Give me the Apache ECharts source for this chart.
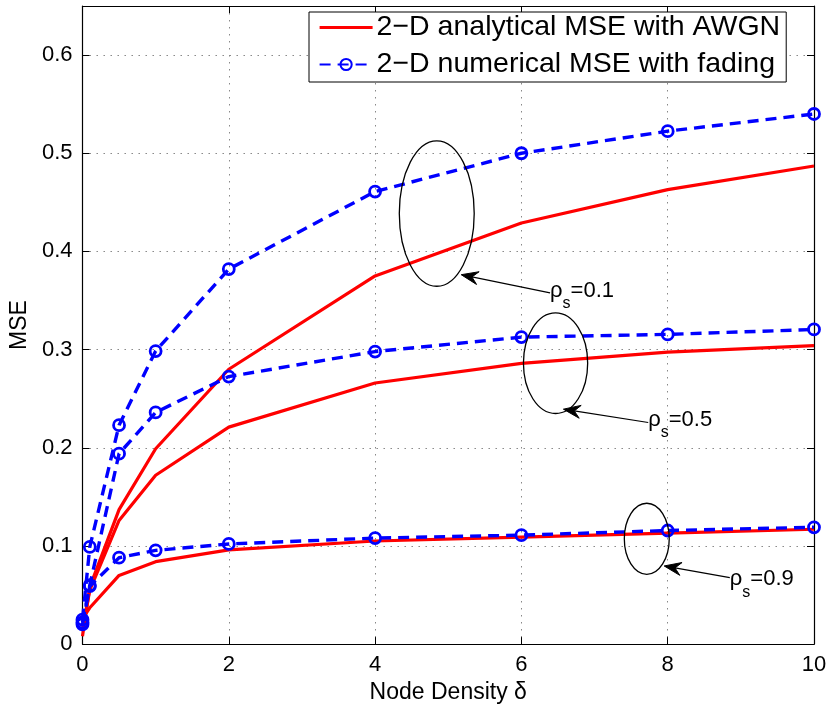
<!DOCTYPE html>
<html>
<head>
<meta charset="utf-8">
<script src="https://cdn.jsdelivr.net/npm/echarts@6/dist/echarts.min.js"></script>
<style>
  html, body { margin: 0; padding: 0; background: #fff; }
  #chart { width: 830px; height: 709px; }
</style>
</head>
<body>
<div id="chart"></div>
<script>
// Node density values (x axis)
const density = [0, 0.1, 0.5, 1, 2, 4, 6, 8, 10];

// 2-D analytical MSE with AWGN, one list per spatial correlation rho_s
const analyticRho01 = [0.008, 0.058, 0.137, 0.199, 0.280, 0.375, 0.429, 0.463, 0.487];
const analyticRho05 = [0.015, 0.055, 0.126, 0.172, 0.221, 0.266, 0.286, 0.2975, 0.304];
const analyticRho09 = [0.026, 0.037, 0.070, 0.084, 0.096, 0.105, 0.109, 0.113, 0.117];

// 2-D numerical MSE with fading
const numericRho01 = [0.025, 0.099, 0.223, 0.2985, 0.382, 0.461, 0.500, 0.5225, 0.540];
const numericRho05 = [0.022, 0.060, 0.194, 0.236, 0.2725, 0.298, 0.3127, 0.3155, 0.3205];
const numericRho09 = [0.020, 0.059, 0.088, 0.0955, 0.102, 0.108, 0.111, 0.1157, 0.119];

// Tick values
const xTicks = [0, 2, 4, 6, 8, 10];
const yTicks = [0, 0.1, 0.2, 0.3, 0.4, 0.5, 0.6];

const nameAnalytic = '2\u2212D analytical MSE with AWGN';
const nameNumeric = '2\u2212D numerical MSE with fading';

// Callouts: label, ellipse (data centre + data radii), arrow tail/tip, label anchor
const callouts = [
  { rho: '0.1', centre: [4.843, 0.4386], radius: [0.512, 0.0741], tail: [6.392, 0.3578], tip: [5.177, 0.3763], anchor: [6.392, 0.3596] },
  { rho: '0.5', centre: [6.467, 0.2862], radius: [0.439, 0.0513], tail: [7.734, 0.2258], tip: [6.574, 0.2393], anchor: [7.734, 0.2286] },
  { rho: '0.9', centre: [7.714, 0.1073], radius: [0.307, 0.0362], tail: [8.849, 0.0677], tip: [7.952, 0.0796], anchor: [8.849, 0.0662] }
];

const FONT = '"Liberation Sans", Arial, Helvetica, sans-serif';
const RED = '#ff0000';
const BLUE = '#0000ff';

const pairs = ys => density.map((x, i) => [x, ys[i]]);

function analyticSeries(ys) {
  return {
    name: nameAnalytic, type: 'line', data: pairs(ys),
    symbol: 'none', showSymbol: false,
    lineStyle: { color: RED, width: 3.2, type: 'solid' },
    itemStyle: { color: 'rgba(255,0,0,0)', borderWidth: 0 },
    emphasis: { disabled: true }, animation: false, z: 3
  };
}
function numericSeries(ys) {
  return {
    name: nameNumeric, type: 'line', data: pairs(ys),
    symbol: 'circle', symbolSize: 11, showSymbol: true,
    lineStyle: { color: BLUE, width: 3.4, type: [11, 7] },
    itemStyle: { color: 'rgba(255,255,255,0)', borderColor: BLUE, borderWidth: 2.8 },
    emphasis: { disabled: true }, animation: false, z: 4
  };
}

const tickFmt = v => {
  const r = Math.round(v * 10) / 10;
  return yTicks.some(t => Math.abs(t - v) < 1e-6) ? String(r) : '';
};

const chart = echarts.init(document.getElementById('chart'), null, { renderer: 'canvas' });

const option = {
  backgroundColor: '#fff',
  animation: false,
  grid: { left: 82, right: 16, top: 6, bottom: 63, containLabel: false, show: false },
  legend: {
    orient: 'vertical', left: 309, top: 12,
    data: [
      { name: nameAnalytic, itemStyle: { color: 'rgba(255,0,0,0)', borderWidth: 0 }, lineStyle: { color: RED, width: 3.2, type: 'solid' } },
      { name: nameNumeric }
    ],
    backgroundColor: '#fff', borderColor: '#000', borderWidth: 1,
    padding: [1, 6, 3, 9], itemGap: 8, itemWidth: 53, itemHeight: 14,
    textStyle: { fontFamily: FONT, fontSize: 28.5, color: '#000', lineHeight: 29, padding: [0, 0, 0, -1] },
    selectedMode: false
  },
  xAxis: [
    {
      type: 'value', min: 0, max: 10, interval: 2, position: 'bottom',
      name: 'Node Density \u03b4', nameLocation: 'middle', nameGap: 36,
      nameTextStyle: { fontFamily: FONT, fontSize: 23, color: '#000' },
      axisLine: { show: true, onZero: false, lineStyle: { color: '#000', width: 1.2 } },
      axisTick: { show: true, inside: true, length: 7, lineStyle: { color: '#000' } },
      axisLabel: { fontFamily: FONT, fontSize: 22, color: '#000', margin: 10 },
      splitLine: { show: true, lineStyle: { color: '#888', type: [1.5, 5.5], width: 1 } }
    },
    {
      type: 'value', min: 0, max: 10, interval: 2, position: 'top',
      axisLine: { show: true, onZero: false, lineStyle: { color: '#000', width: 1.2 } },
      axisTick: { show: true, inside: true, length: 7, lineStyle: { color: '#000' } },
      axisLabel: { show: false }, splitLine: { show: false }
    }
  ],
  yAxis: [
    {
      type: 'value', min: 0, max: 0.65, interval: 0.1, position: 'left',
      name: 'MSE', nameLocation: 'middle', nameGap: 50, nameRotate: 90,
      nameTextStyle: { fontFamily: FONT, fontSize: 23, color: '#000' },
      axisLine: { show: true, onZero: false, lineStyle: { color: '#000', width: 1.2 } },
      axisTick: { show: true, inside: true, length: 7, lineStyle: { color: '#000' } },
      axisLabel: { fontFamily: FONT, fontSize: 22, color: '#000', margin: 10, formatter: tickFmt, showMaxLabel: false },
      splitLine: { show: true, lineStyle: { color: '#888', type: [1.5, 5.5], width: 1 } }
    },
    {
      type: 'value', min: 0, max: 0.65, interval: 0.1, position: 'right',
      axisLine: { show: true, onZero: false, lineStyle: { color: '#000', width: 1.2 } },
      axisTick: { show: true, inside: true, length: 7, lineStyle: { color: '#000' } },
      axisLabel: { show: false }, splitLine: { show: false }
    }
  ],
  series: [
    analyticSeries(analyticRho01),
    analyticSeries(analyticRho05),
    analyticSeries(analyticRho09),
    numericSeries(numericRho01),
    numericSeries(numericRho05),
    numericSeries(numericRho09)
  ]
};

chart.setOption(option);

// Ellipses, arrows and rho_s labels placed in data coordinates
function drawCallouts() {
  const px = p => chart.convertToPixel({ xAxisIndex: 0, yAxisIndex: 0 }, p);
  const elements = [];
  callouts.forEach(c => {
    const ctr = px(c.centre);
    const edge = px([c.centre[0] + c.radius[0], c.centre[1] + c.radius[1]]);
    elements.push({
      type: 'ellipse', silent: true, z: 10,
      shape: { cx: ctr[0], cy: ctr[1], rx: Math.abs(edge[0] - ctr[0]), ry: Math.abs(edge[1] - ctr[1]) },
      style: { fill: null, stroke: '#000', lineWidth: 1.3 }
    });
    const a = px(c.tail), b = px(c.tip);
    const dx = b[0] - a[0], dy = b[1] - a[1];
    const len = Math.hypot(dx, dy), ux = dx / len, uy = dy / len;
    const nx = -uy, ny = ux;
    const L = 17, W = 6.5, notch = 11;
    elements.push({
      type: 'line', silent: true, z: 10,
      shape: { x1: a[0], y1: a[1], x2: b[0] - ux * notch, y2: b[1] - uy * notch },
      style: { stroke: '#000', lineWidth: 1.1 }
    });
    elements.push({
      type: 'polygon', silent: true, z: 10,
      shape: { points: [
        [b[0], b[1]],
        [b[0] - ux * L + nx * W, b[1] - uy * L + ny * W],
        [b[0] - ux * notch, b[1] - uy * notch],
        [b[0] - ux * L - nx * W, b[1] - uy * L - ny * W]
      ] },
      style: { fill: '#000', stroke: '#000', lineWidth: 1 }
    });
    const t = px(c.anchor);
    elements.push({
      type: 'text', silent: true, z: 11,
      x: t[0], y: t[1] - 11,
      style: {
        text: '{r|\u03c1}{s|s}{v|=' + c.rho + '}',
        fontFamily: FONT, fill: '#000', align: 'left', verticalAlign: 'top',
        rich: {
          r: { fontFamily: FONT, fontSize: 22, lineHeight: 22, verticalAlign: 'top' },
          s: { fontFamily: FONT, fontSize: 16, lineHeight: 16, verticalAlign: 'top', padding: [16, 0, 0, 0] },
          v: { fontFamily: FONT, fontSize: 22, lineHeight: 22, verticalAlign: 'top' }
        }
      }
    });
  });
  chart.setOption({ graphic: { elements } });
}
drawCallouts();
</script>
</body>
</html>
